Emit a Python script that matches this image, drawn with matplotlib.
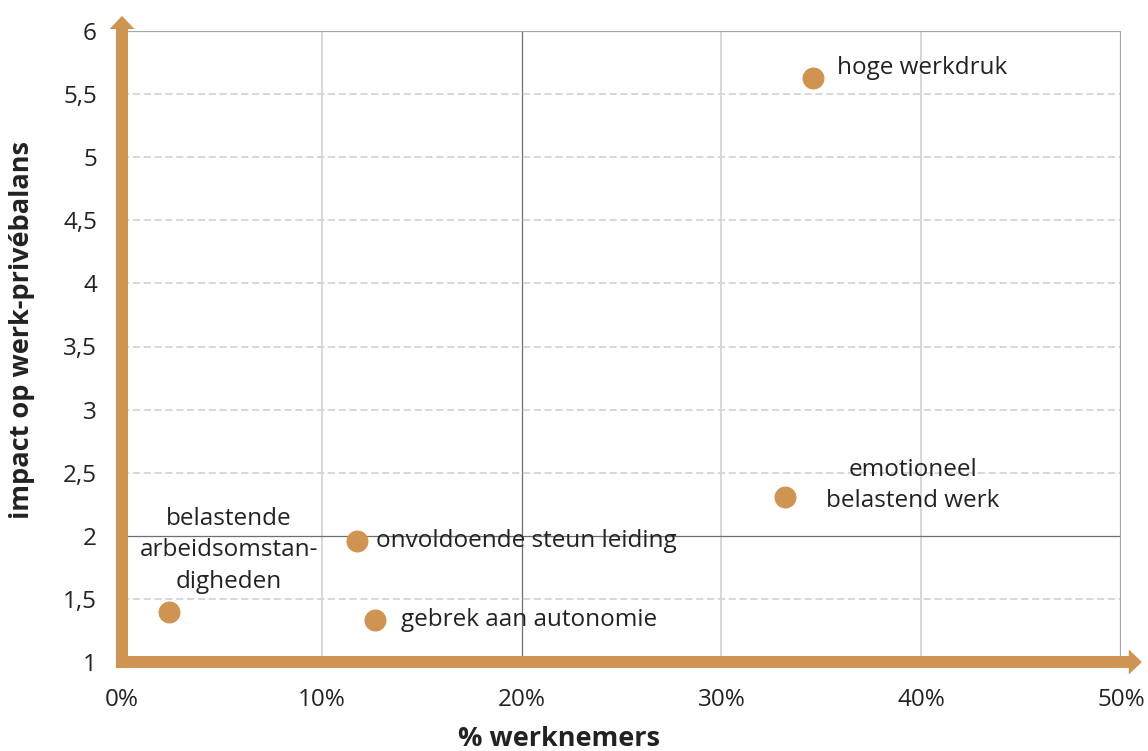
import matplotlib
matplotlib.use("Agg")
import matplotlib.pyplot as plt
from matplotlib.patches import FancyArrowPatch, ArrowStyle
from matplotlib.ticker import FuncFormatter

plt.rcParams['font.family'] = ['Open Sans', 'DejaVu Sans']

# data
labels = ["hoge werkdruk", "emotioneel\nbelastend werk", "onvoldoende steun leiding",
          "gebrek aan autonomie", "belastende\narbeidsomstan-\ndigheden"]
pct = [34.6, 33.2, 11.75, 12.65, 2.35]
impact = [5.63, 2.31, 1.96, 1.33, 1.40]
# label offsets (points) and alignment
offsets = [(17, 7), (92, 8), (14, 0), (19, 0), (43, 44)]
aligns = ["left", "center", "left", "left", "center"]

xticks = [0, 10, 20, 30, 40, 50]
yticks = [1, 1.5, 2, 2.5, 3, 3.5, 4, 4.5, 5, 5.5, 6]

orange = "#D09452"
txt = "#222222"

fig = plt.figure(figsize=(11.48, 7.51), dpi=100)
ax = fig.add_axes([122/1148, 1-662/751, 999/1148, 631/751])
ax.set_xlim(0, 50)
ax.set_ylim(1, 6)

for s in ax.spines.values():
    s.set_visible(False)

# grid
for x in xticks[1:-1]:
    if x == 20:
        ax.axvline(x, color="#6e6e6e", lw=0.9, zorder=1)
    else:
        ax.axvline(x, color="#d4d4d4", lw=1.3, zorder=1)
for y in yticks[1:-1]:
    if y == 2:
        ax.axhline(y, color="#6e6e6e", lw=0.9, zorder=1)
    else:
        ax.axhline(y, color="#d4d4d4", lw=1.3, ls=(0, (4, 2)), zorder=1)
ax.axhline(6, color="#a6a6a6", lw=1.6, zorder=1)
ax.axvline(50, color="#a6a6a6", lw=1.6, zorder=1)

# arrow axes
style = ArrowStyle.Simple(head_length=9.5, head_width=18, tail_width=8.6)
for a, b in [((0, -0.0095), (0, 1.024)), ((-0.006, 0), (1.021, 0))]:
    ax.add_patch(FancyArrowPatch(a, b, transform=ax.transAxes, arrowstyle=style,
                                 mutation_scale=1, color=orange, lw=0,
                                 shrinkA=0, shrinkB=0, clip_on=False, zorder=3))

ax.scatter(pct, impact, s=250, color=orange, zorder=4, linewidths=0)
for lab, x, y, off, ha in zip(labels, pct, impact, offsets, aligns):
    ax.annotate(lab, (x, y), xytext=off, textcoords="offset points",
                ha=ha, va="center", fontsize=17.5, color=txt,
                linespacing=1.4, zorder=5)

ax.set_xticks(xticks)
ax.set_yticks(yticks)
ax.xaxis.set_major_formatter(FuncFormatter(lambda v, p: f"{v:.0f}%"))
ax.yaxis.set_major_formatter(FuncFormatter(lambda v, p: f"{v:g}".replace(".", ",")))
ax.tick_params(length=0, labelsize=17.5, labelcolor=txt)
ax.tick_params(axis="x", pad=19)
ax.tick_params(axis="y", pad=18)

ax.set_xlabel("% werknemers", fontsize=19.5, fontweight="bold", color=txt, va="center")
ax.xaxis.set_label_coords((559-122)/999, -(739-662)/631)
ax.set_ylabel("impact op werk-privébalans", fontsize=19.5, fontweight="bold", color=txt, va="center")
ax.yaxis.set_label_coords(-(122-22)/999, (662-330)/631)

fig.savefig("out.png", dpi=100)
